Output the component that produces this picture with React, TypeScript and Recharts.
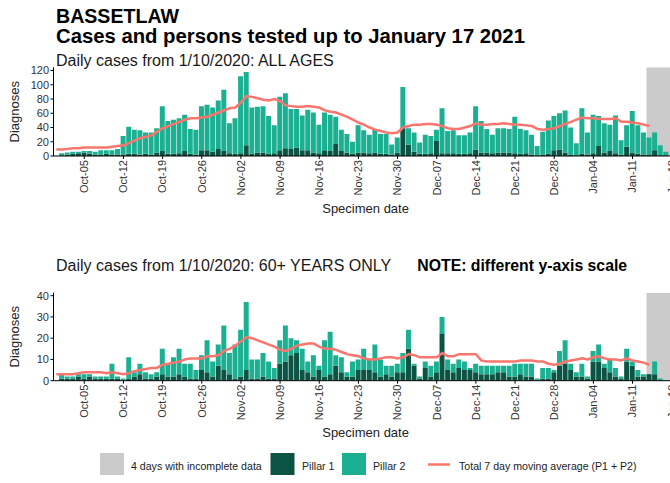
import React from 'react';
import { ComposedChart, Bar, Line, XAxis, YAxis, ReferenceArea } from 'recharts';

const FONT = '"Liberation Sans", Arial, Helvetica, sans-serif';
const P1_COLOR = '#0b5343';
const P2_COLOR = '#1bb092';
const MA_COLOR = '#f8766d';
const GREY = '#cbcbcb';

// Categories: Sep-30 (moving-average start) through Jan-18 (axis end)
const monthSpans: [string, number, number][] = [
  ['Sep', 30, 30],
  ['Oct', 1, 31],
  ['Nov', 1, 30],
  ['Dec', 1, 31],
  ['Jan', 1, 18],
];
const dates: string[] = [];
monthSpans.forEach(([m, a, b]) => {
  for (let d = a; d <= b; d++) dates.push(`${m}-${String(d).padStart(2, '0')}`);
});

const xTicks = ['Oct-05', 'Oct-12', 'Oct-19', 'Oct-26', 'Nov-02', 'Nov-09', 'Nov-16', 'Nov-23',
  'Nov-30', 'Dec-07', 'Dec-14', 'Dec-21', 'Dec-28', 'Jan-04', 'Jan-11', 'Jan-18'];
const incompleteStart = 'Jan-14';
const incompleteEnd = 'Jan-18';

// ALL AGES: Oct-01 .. Jan-17
const allPillar1 = [
  1, 2, 3, 4, 5, 3, 2, 2, 3, 2,
  2, 2, 3, 3, 2, 3, 2, 5, 7, 3,
  3, 4, 7, 3, 2, 8, 8, 6, 10, 7,
  4, 3, 4, 15, 3, 5, 5, 3, 4, 8,
  11, 10, 12, 8, 8, 5, 4, 8, 7, 17,
  7, 5, 3, 5, 5, 4, 5, 3, 3, 2,
  5, 40, 16, 6, 3, 3, 4, 21, 4, 4,
  4, 3, 3, 4, 9, 5, 5, 4, 5, 5,
  5, 4, 3, 4, 2, 1, 2, 3, 8, 9,
  5, 2, 1, 3, 2, 4, 14, 5, 7, 4,
  2, 13, 5, 3, 2, 2, 8, 1, 1,
];
const allPillar2 = [
  3, 3, 3, 2, 2, 4, 4, 6, 5, 6,
  8, 26, 38, 34, 34, 30, 31, 34, 63, 46,
  48, 49, 51, 35, 35, 62, 64, 62, 68, 86,
  42, 50, 108, 103, 65, 64, 65, 53, 39, 75,
  77, 56, 54, 49, 57, 56, 40, 53, 51, 38,
  30, 26, 17, 38, 31, 26, 33, 28, 28, 14,
  21, 57, 23, 27, 16, 27, 24, 16, 63, 31,
  32, 26, 26, 29, 61, 44, 33, 26, 34, 34,
  33, 51, 35, 32, 28, 13, 32, 47, 48, 51,
  59, 38, 17, 64, 31, 54, 42, 41, 37, 53,
  20, 30, 58, 40, 31, 24, 25, 14, 5,
];
// 7-day moving average: Sep-30 .. Jan-14
const allMovingAvg = [
  9,
  9, 10, 11, 11, 12, 12, 12, 12, 12, 13,
  14, 15, 18, 22, 25, 27, 29, 34, 39, 42,
  45, 48, 51, 53, 53, 54, 55, 58, 61, 64,
  67, 68, 75, 84, 83, 81, 79, 78, 80, 77,
  71, 70, 69, 69, 70, 69, 68, 64, 62, 61,
  58, 55, 51, 47, 44, 40, 37, 35, 33, 32,
  33, 40, 42, 44, 44, 45, 45, 44, 42, 39,
  38, 38, 40, 42, 46, 44, 44, 45, 45, 46,
  45, 44, 44, 43, 42, 38, 37, 38, 39, 42,
  45, 48, 51, 54, 53, 53, 52, 52, 52, 53,
  48, 48, 47, 46, 44, 42,
];

// 60+ YEARS: Oct-01 .. Jan-17
const oldPillar1 = [
  1, 1, 1, 2, 1, 2, 1, 1, 1, 1,
  1, 0, 1, 2, 3, 1, 1, 2, 3, 2,
  2, 3, 2, 1, 1, 5, 4, 2, 7, 5,
  3, 1, 2, 5, 1, 1, 2, 1, 1, 8,
  9, 12, 13, 5, 4, 2, 5, 2, 3, 7,
  4, 2, 2, 5, 5, 5, 4, 2, 3, 2,
  4, 4, 15, 7, 1, 6, 2, 4, 22, 5,
  4, 6, 5, 5, 4, 3, 3, 3, 4, 4,
  2, 2, 3, 2, 2, 0, 1, 1, 4, 7,
  8, 5, 2, 2, 1, 9, 9, 6, 4, 2,
  1, 9, 7, 2, 2, 3, 3, 0, 0,
];
const oldPillar2 = [
  2, 1, 1, 1, 2, 1, 1, 1, 1, 7,
  1, 1, 10, 2, 5, 3, 2, 2, 12, 6,
  9, 12, 6, 7, 4, 7, 15, 7, 10, 21,
  10, 16, 22, 32, 9, 9, 11, 8, 5, 11,
  17, 8, 6, 10, 5, 10, 2, 17, 20, 5,
  7, 2, 7, 5, 10, 5, 13, 8, 4, 5,
  4, 9, 9, 1, 1, 3, 5, 5, 8, 5,
  4, 4, 4, 1, 4, 4, 4, 4, 3, 3,
  5, 6, 5, 6, 6, 1, 5, 5, 1, 7,
  11, 3, 2, 6, 1, 5, 8, 2, 6, 4,
  1, 6, 2, 3, 1, 0, 6, 1, 0,
];
const oldMovingAvg = [
  3,
  3, 3, 3, 3.5, 4, 4, 4, 4, 3.5, 4,
  3.5, 3, 3.5, 4.5, 5, 5.5, 6, 6, 7.5, 8,
  8.5, 9, 10, 10.5, 10.5, 10.5, 11.5, 11.5, 12, 14,
  15, 16.5, 18.5, 20.5, 20, 19, 18, 17, 16, 14.5,
  14, 15, 16.5, 17, 17.5, 17.5, 16, 15, 15, 14.5,
  13.5, 12.5, 12, 11.5, 10.5, 10, 10, 10.5, 11, 11,
  10.5, 11, 12.5, 12, 11, 11, 11, 11, 13, 11.5,
  11.5, 12.5, 12.5, 12.5, 12.5, 9.5, 9, 9, 9, 9,
  9, 9, 9.5, 9.5, 9.5, 9, 9, 8, 7.5, 8,
  9, 9.5, 10, 10.5, 10, 11, 11.5, 10.5, 10, 10,
  9.5, 10.5, 9.5, 9, 8.5, 7.5,
];

const allYTicks = [0, 20, 40, 60, 80, 100, 120];
const oldYTicks = [0, 10, 20, 30, 40];

function buildRows(p1: number[], p2: number[], ma: number[]) {
  return dates.map((date, k) => ({
    date,
    p1: k >= 1 ? p1[k - 1] : undefined,
    p2: k >= 1 ? p2[k - 1] : undefined,
    ma: ma[k],
  }));
}

const allRows = buildRows(allPillar1, allPillar2, allMovingAvg);
const oldRows = buildRows(oldPillar1, oldPillar2, oldMovingAvg);

const XTick = (props: any) => {
  const { x, y, payload } = props;
  return (
    <text
      x={x}
      y={y}
      dy="0.35em"
      transform={`rotate(-90, ${x}, ${y})`}
      textAnchor="end"
      fontSize={11}
      fill="#333"
      fontFamily={FONT}
    >
      {payload.value}
    </text>
  );
};

const CHART_W = 690;
const PLOT_RIGHT = 674.5;

function Panel(props: { rows: any[]; yMax: number; yTicks: number[]; height: number; top: number; axisH: number }) {
  const { rows, yMax, yTicks, height, top, axisH } = props;
  return (
    <ComposedChart
      width={CHART_W}
      height={height}
      data={rows}
      margin={{ top, right: CHART_W - PLOT_RIGHT, bottom: 0, left: 0 }}
    >
      <ReferenceArea
        x1={incompleteStart}
        x2={incompleteEnd}
        fill={GREY}
        fillOpacity={1}
        stroke="none"
        ifOverflow="hidden"
      />
      <XAxis
        dataKey="date"
        type="category"
        ticks={xTicks}
        interval={0}
        tick={<XTick />}
        tickSize={3}
        tickMargin={1}
        height={axisH}
        axisLine={{ stroke: '#000', strokeWidth: 1 }}
        tickLine={{ stroke: '#000', strokeWidth: 1 }}
      />
      <YAxis
        type="number"
        domain={[0, yMax]}
        ticks={yTicks}
        interval={0}
        allowDataOverflow
        width={53.5}
        tickSize={3}
        tickMargin={1.5}
        axisLine={{ stroke: '#000', strokeWidth: 1 }}
        tickLine={{ stroke: '#000', strokeWidth: 1 }}
        tick={{ fontSize: 11, fill: '#333', fontFamily: FONT }}
      />
      <Bar dataKey="p1" stackId="s" fill={P1_COLOR} barSize={5} isAnimationActive={false} />
      <Bar dataKey="p2" stackId="s" fill={P2_COLOR} barSize={5} isAnimationActive={false} />
      <Line
        dataKey="ma"
        type="linear"
        stroke={MA_COLOR}
        strokeWidth={2.5}
        dot={false}
        activeDot={false}
        isAnimationActive={false}
      />
    </ComposedChart>
  );
}

export default function App() {
  return (
    <div
      style={{
        position: 'absolute',
        left: 0,
        top: 0,
        width: 670,
        height: 483,
        overflow: 'hidden',
        background: '#fff',
        fontFamily: FONT,
      }}
    >
      <div style={{ position: 'absolute', left: 0, top: 0 }}>
        <Panel rows={allRows} yMax={124.5} yTicks={allYTicks} height={200} top={67.3} axisH={44} />
      </div>
      <div style={{ position: 'absolute', left: 0, top: 230 }}>
        <Panel rows={oldRows} yMax={41.4} yTicks={oldYTicks} height={195} top={62.7} axisH={44.3} />
      </div>
      <svg
        width={670}
        height={483}
        style={{ position: 'absolute', left: 0, top: 0, pointerEvents: 'none' }}
        fontFamily={FONT}
      >
        <text x={56} y={22.5} fontSize={19.6} fontWeight="bold" fill="#000">BASSETLAW</text>
        <text x={56} y={43} fontSize={20.3} fontWeight="bold" fill="#000">
          Cases and persons tested up to January 17 2021
        </text>
        <text x={56} y={65.5} fontSize={16} fill="#1a1a1a">Daily cases from 1/10/2020: ALL AGES</text>
        <text x={56} y={270.7} fontSize={16} fill="#1a1a1a">Daily cases from 1/10/2020: 60+ YEARS ONLY</text>
        <text x={417.3} y={270.7} fontSize={15.8} fontWeight="bold" fill="#000">NOTE: different y-axis scale</text>

        <text transform="translate(18.5,111.7) rotate(-90)" textAnchor="middle" fontSize={13} fill="#222">Diagnoses</text>
        <text transform="translate(18.5,336.7) rotate(-90)" textAnchor="middle" fontSize={13} fill="#222">Diagnoses</text>
        <text x={365.6} y={213.3} textAnchor="middle" fontSize={13} fill="#222">Specimen date</text>
        <text x={365.6} y={437} textAnchor="middle" fontSize={13} fill="#222">Specimen date</text>

        <rect x={100} y={453} width={24} height={22} fill={GREY} />
        <text x={131} y={469.5} fontSize={10.6} fill="#222">4 days with incomplete data</text>
        <rect x={270.5} y={453} width={24} height={22} fill={P1_COLOR} />
        <text x={302} y={469.5} fontSize={10.6} fill="#222">Pillar 1</text>
        <rect x={342} y={453} width={24} height={22} fill={P2_COLOR} />
        <text x={373} y={469.5} fontSize={10.6} fill="#222">Pillar 2</text>
        <line x1={428} x2={450} y1={464.5} y2={464.5} stroke={MA_COLOR} strokeWidth={2.5} />
        <text x={459} y={469.5} fontSize={10.6} fill="#222">Total 7 day moving average (P1 + P2)</text>
      </svg>
    </div>
  );
}
